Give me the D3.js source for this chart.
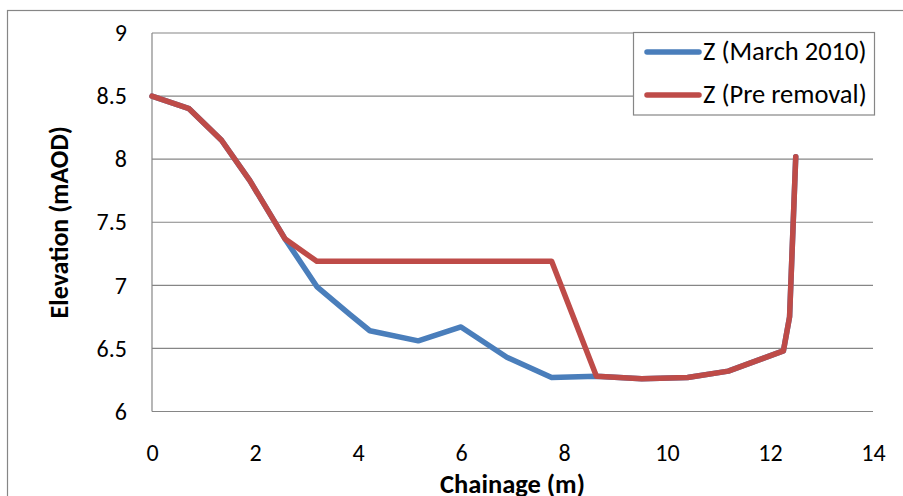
<!DOCTYPE html>
<html>
<head>
<meta charset="utf-8">
<script src="https://cdn.jsdelivr.net/npm/d3@7"></script>
<style>
  html, body { margin: 0; padding: 0; background: #fff; overflow: hidden; }
  text { font-family: Carlito, "Open Sans", "Noto Sans", sans-serif; fill: #000; }
</style>
</head>
<body>
<div id="chart"></div>
<script>
// data
var chainage_now = [0, 0.72, 1.35, 1.9, 2.58, 3.2, 3.84, 4.23, 5.17, 6.0, 6.89, 7.76, 8.63, 9.51, 10.4, 11.19, 12.26, 12.38, 12.5];
var z_now        = [8.5, 8.4, 8.15, 7.83, 7.37, 6.99, 6.77, 6.64, 6.56, 6.67, 6.43, 6.27, 6.28, 6.26, 6.27, 6.32, 6.48, 6.75, 8.02];
var chainage_pre = [0, 0.72, 1.35, 1.9, 2.58, 3.2, 7.76, 8.63, 9.51, 10.4, 11.19, 12.26, 12.38, 12.5];
var z_pre        = [8.5, 8.4, 8.15, 7.83, 7.37, 7.19, 7.19, 6.28, 6.26, 6.27, 6.32, 6.48, 6.75, 8.02];
var series_names = ['Z (March 2010)', 'Z (Pre removal)'];
var x_ticks = [0, 2, 4, 6, 8, 10, 12, 14];
var y_ticks = [6, 6.5, 7, 7.5, 8, 8.5, 9];

var width = 903, height = 496;
var plot_left = 152, plot_right = 873, plot_top = 33, plot_bottom = 411.5;
var blue = '#4A7EBB', red = '#BE4B48', grey = '#868686';
var font = 'Carlito, "Open Sans", "Noto Sans", sans-serif';

var svg = d3.select('#chart').append('svg')
    .attr('width', width).attr('height', height);

// outer chart frame (runs off the right and bottom edge)
svg.append('rect')
    .attr('x', 7.5).attr('y', 10.5)
    .attr('width', 1000).attr('height', 1000)
    .attr('fill', 'none').attr('stroke', grey).attr('stroke-width', 1.2);

var x = d3.scaleLinear().domain([0, 14]).range([plot_left, plot_right]);
var y = d3.scaleLinear().domain([6, 9]).range([plot_bottom, plot_top]);

// horizontal gridlines
svg.append('g').selectAll('line')
    .data(y_ticks).enter().append('line')
    .attr('x1', plot_left).attr('x2', plot_right)
    .attr('y1', function(d) { return y(d); })
    .attr('y2', function(d) { return y(d); })
    .attr('stroke', grey).attr('stroke-width', 1.2);

// left axis line
svg.append('line')
    .attr('x1', plot_left).attr('x2', plot_left)
    .attr('y1', plot_top).attr('y2', plot_bottom)
    .attr('stroke', grey).attr('stroke-width', 1.2);

// y tick labels
var yAxis = svg.append('g')
    .attr('transform', 'translate(' + (plot_left - 25) + ',0)')
    .call(d3.axisLeft(y).tickValues(y_ticks).tickSize(0).tickPadding(0)
        .tickFormat(function(d) { return String(d); }));
yAxis.select('.domain').remove();
yAxis.selectAll('text')
    .attr('font-size', '24px').attr('fill', '#000')
    .style('font-family', font);

// x tick labels
var xAxis = svg.append('g')
    .attr('transform', 'translate(0,' + (plot_bottom + 32) + ')')
    .call(d3.axisBottom(x).tickValues(x_ticks).tickSize(0).tickPadding(0));
xAxis.select('.domain').remove();
xAxis.selectAll('text')
    .attr('font-size', '24px').attr('fill', '#000')
    .style('font-family', font);

// axis titles
svg.append('text')
    .attr('x', (plot_left + plot_right) / 2).attr('y', 493)
    .attr('text-anchor', 'middle')
    .attr('font-size', '26.5px').attr('font-weight', 'bold')
    .text('Chainage (m)');

svg.append('text')
    .attr('transform', 'translate(68,' + ((plot_top + plot_bottom) / 2) + ') rotate(-90)')
    .attr('text-anchor', 'middle')
    .attr('font-size', '26px').attr('font-weight', 'bold')
    .text('Elevation (mAOD)');

// lines
var line = d3.line()
    .x(function(d) { return x(d[0]); })
    .y(function(d) { return y(d[1]); });

var now_pts = d3.zip(chainage_now, z_now);
var pre_pts = d3.zip(chainage_pre, z_pre);

svg.append('path').datum(now_pts)
    .attr('d', line).attr('fill', 'none')
    .attr('stroke', blue).attr('stroke-width', 5.5)
    .attr('stroke-linejoin', 'round').attr('stroke-linecap', 'round');

svg.append('path').datum(pre_pts)
    .attr('d', line).attr('fill', 'none')
    .attr('stroke', red).attr('stroke-width', 5.5)
    .attr('stroke-linejoin', 'round').attr('stroke-linecap', 'round');

// legend
var legend = svg.append('g');
legend.append('rect')
    .attr('x', 633.5).attr('y', 32.5)
    .attr('width', 241).attr('height', 82.5)
    .attr('fill', '#fff').attr('stroke', grey).attr('stroke-width', 1.2);

var leg_colors = [blue, red];
var leg_items = legend.selectAll('g.item')
    .data(series_names).enter().append('g').attr('class', 'item');

leg_items.append('line')
    .attr('x1', 647).attr('x2', 699)
    .attr('y1', function(d, i) { return 52 + i * 43; })
    .attr('y2', function(d, i) { return 52 + i * 43; })
    .attr('stroke', function(d, i) { return leg_colors[i]; })
    .attr('stroke-width', 5.5).attr('stroke-linecap', 'round');

leg_items.append('text')
    .attr('x', 703)
    .attr('y', function(d, i) { return 60 + i * 43; })
    .attr('font-size', '26.5px')
    .text(function(d) { return d; });
</script>
</body>
</html>
